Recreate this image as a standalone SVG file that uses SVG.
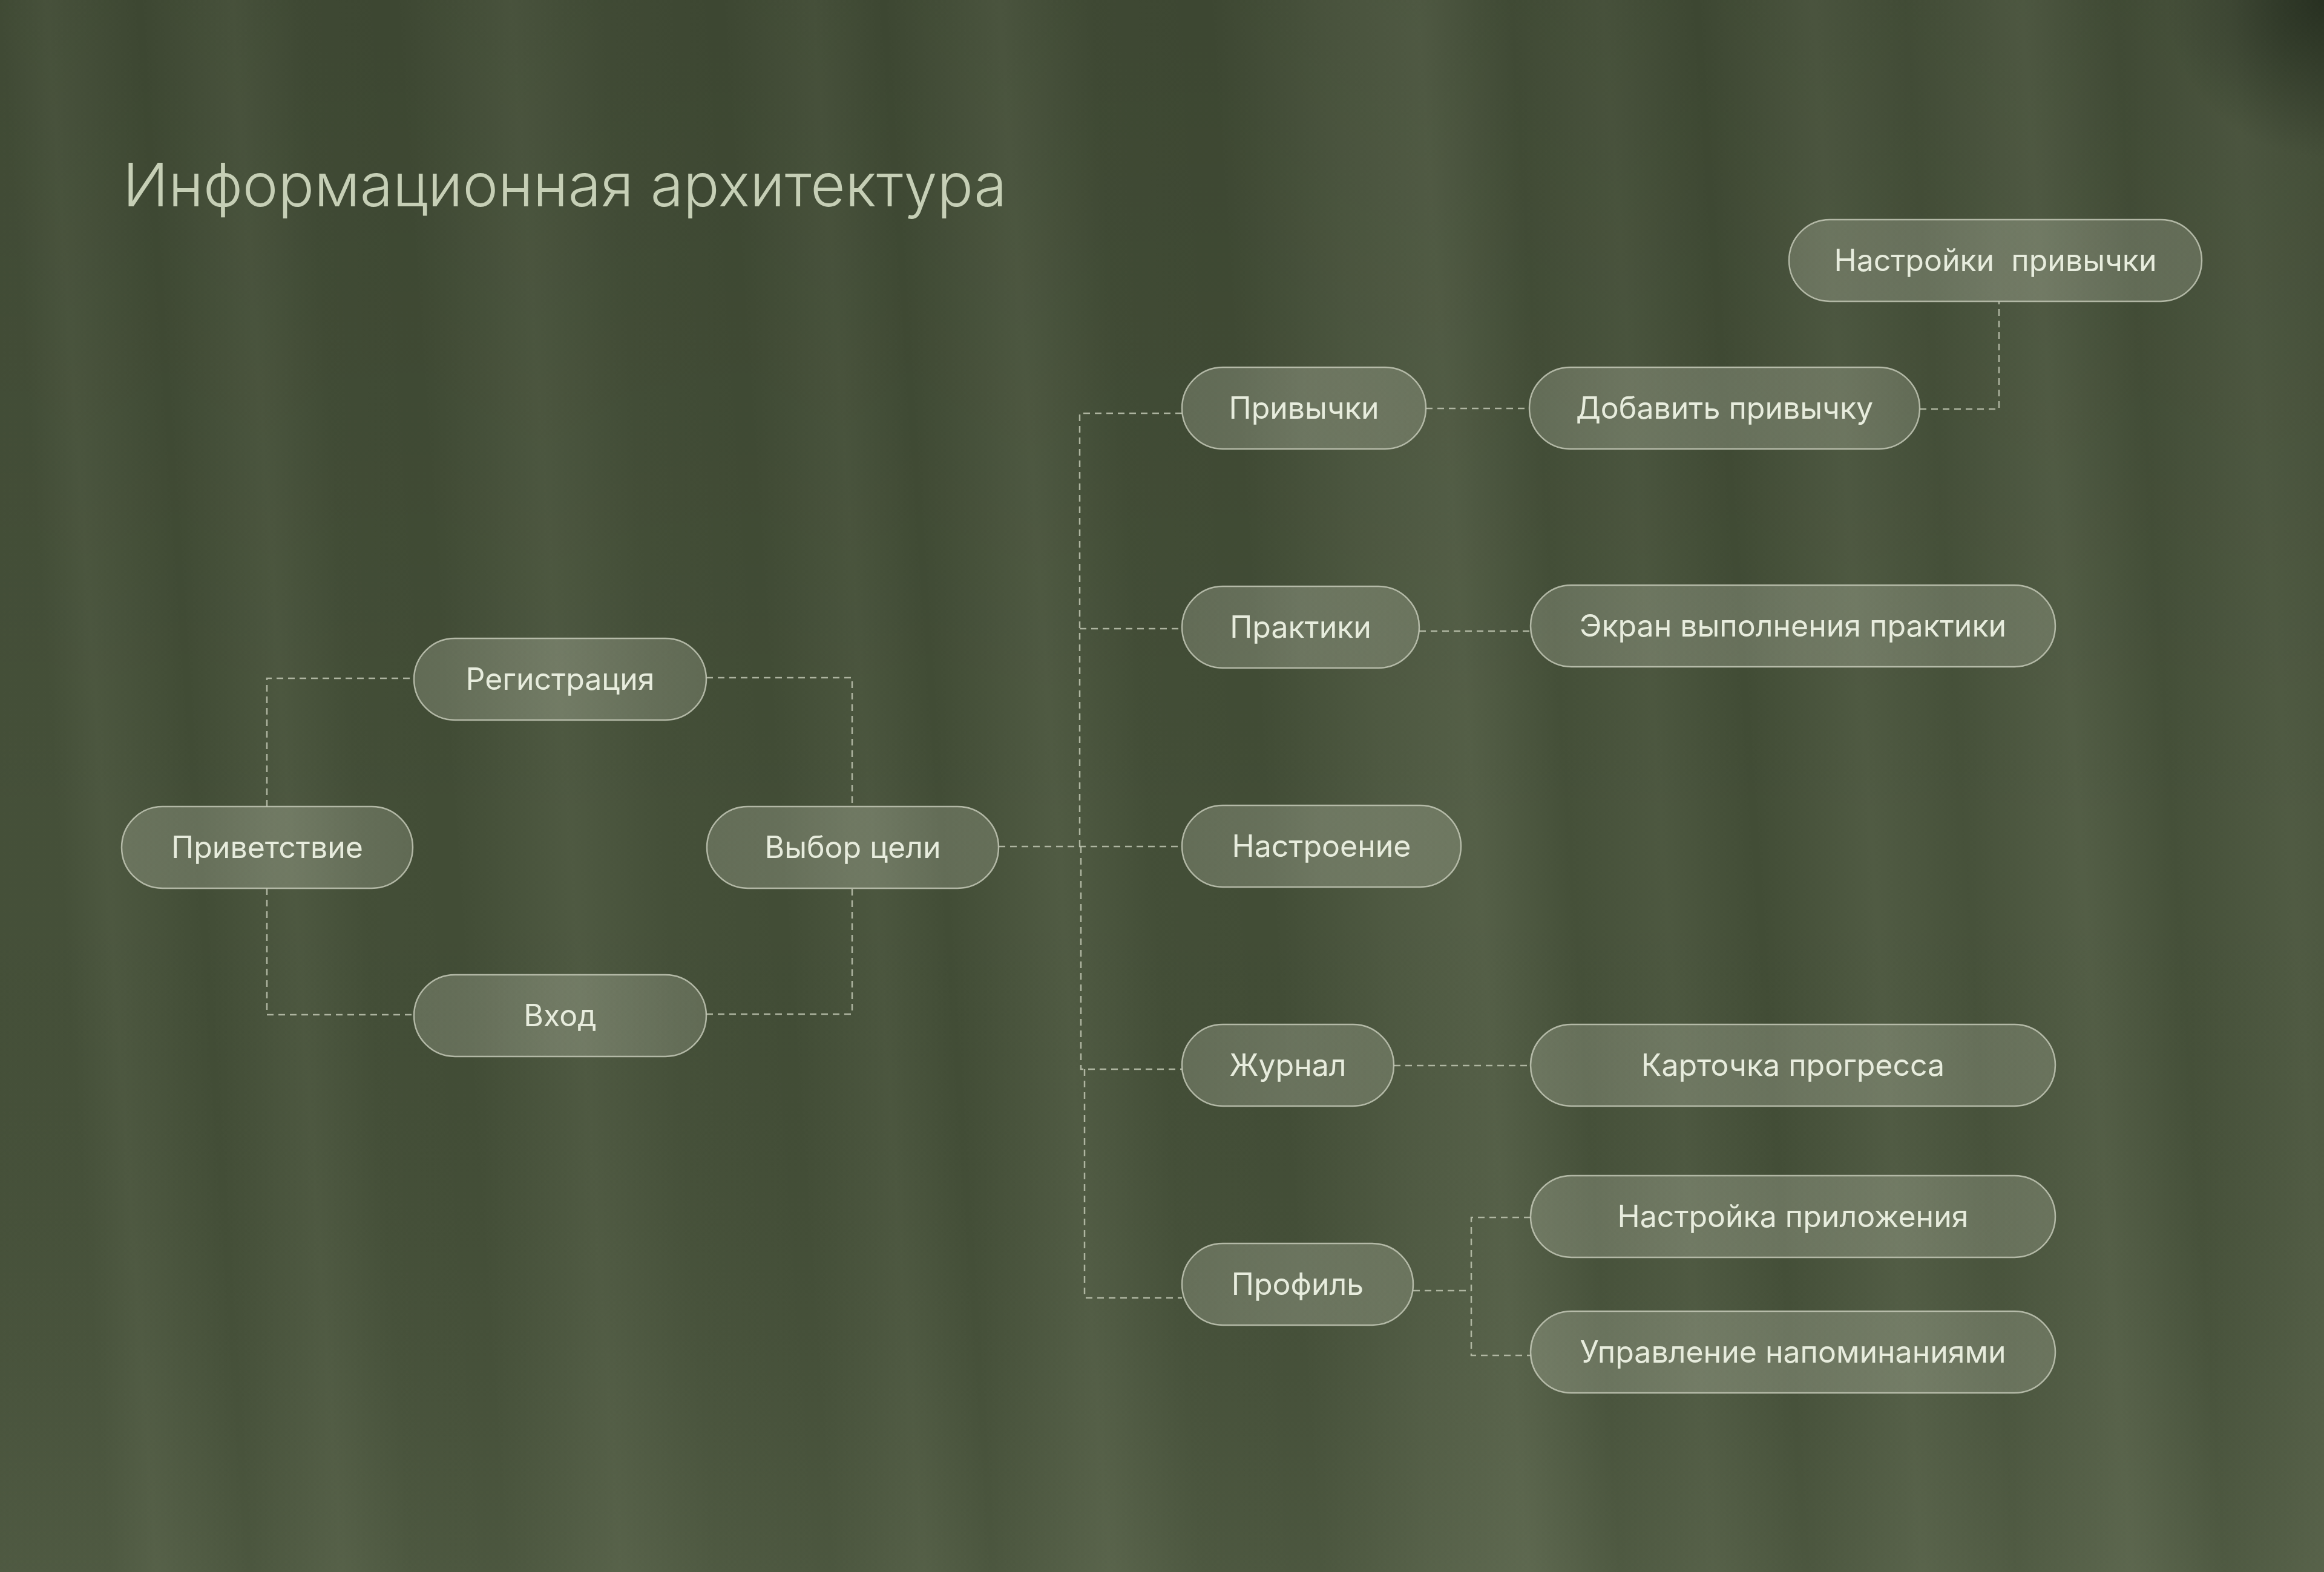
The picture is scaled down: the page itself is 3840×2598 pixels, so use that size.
<svg xmlns="http://www.w3.org/2000/svg" width="3840" height="2598" viewBox="0 0 3840 2598">
<defs>
<linearGradient id="stripes" gradientUnits="userSpaceOnUse" x1="0" y1="0" x2="3840" y2="0" gradientTransform="skewX(4)">
<stop offset="0" stop-color="#dfe8c8" stop-opacity="0.02"/>
<stop offset="0.02" stop-color="#dfe8c8" stop-opacity="0.07"/>
<stop offset="0.06" stop-color="#dfe8c8" stop-opacity="0.0"/>
<stop offset="0.10" stop-color="#dfe8c8" stop-opacity="0.07"/>
<stop offset="0.13" stop-color="#dfe8c8" stop-opacity="0.01"/>
<stop offset="0.17" stop-color="#dfe8c8" stop-opacity="0.0"/>
<stop offset="0.22" stop-color="#dfe8c8" stop-opacity="0.08"/>
<stop offset="0.26" stop-color="#dfe8c8" stop-opacity="0.02"/>
<stop offset="0.31" stop-color="#dfe8c8" stop-opacity="0.0"/>
<stop offset="0.35" stop-color="#dfe8c8" stop-opacity="0.06"/>
<stop offset="0.38" stop-color="#dfe8c8" stop-opacity="0.0"/>
<stop offset="0.43" stop-color="#dfe8c8" stop-opacity="0.09"/>
<stop offset="0.47" stop-color="#dfe8c8" stop-opacity="0.01"/>
<stop offset="0.52" stop-color="#dfe8c8" stop-opacity="0.0"/>
<stop offset="0.57" stop-color="#dfe8c8" stop-opacity="0.08"/>
<stop offset="0.61" stop-color="#dfe8c8" stop-opacity="0.12"/>
<stop offset="0.65" stop-color="#dfe8c8" stop-opacity="0.02"/>
<stop offset="0.69" stop-color="#dfe8c8" stop-opacity="0.07"/>
<stop offset="0.73" stop-color="#dfe8c8" stop-opacity="0.0"/>
<stop offset="0.78" stop-color="#dfe8c8" stop-opacity="0.09"/>
<stop offset="0.82" stop-color="#dfe8c8" stop-opacity="0.03"/>
<stop offset="0.87" stop-color="#dfe8c8" stop-opacity="0.11"/>
<stop offset="0.91" stop-color="#dfe8c8" stop-opacity="0.02"/>
<stop offset="0.96" stop-color="#dfe8c8" stop-opacity="0.09"/>
<stop offset="1" stop-color="#dfe8c8" stop-opacity="0.04"/>
</linearGradient>
<linearGradient id="vert" x1="0" y1="0" x2="0" y2="1">
<stop offset="0" stop-color="#000000" stop-opacity="0.08"/>
<stop offset="0.55" stop-color="#000000" stop-opacity="0"/>
<stop offset="1" stop-color="#e8f0d0" stop-opacity="0.06"/>
</linearGradient>
<radialGradient id="corner" gradientUnits="userSpaceOnUse" cx="3840" cy="0" r="260">
<stop offset="0" stop-color="#1c2418" stop-opacity="0.7"/>
<stop offset="1" stop-color="#1c2418" stop-opacity="0"/>
</radialGradient>
<linearGradient id="pillFill" x1="0" y1="0" x2="1" y2="0">
<stop offset="0" stop-color="#e6ead8" stop-opacity="0.20"/>
<stop offset="0.5" stop-color="#e6ead8" stop-opacity="0.24"/>
<stop offset="1" stop-color="#e6ead8" stop-opacity="0.18"/>
</linearGradient>
<style>
.pill{fill:url(#pillFill);stroke:#c3c8b6;stroke-opacity:0.85;stroke-width:2.5}
.lbl{font-family:Inter,"Noto Sans","Liberation Sans",sans-serif;font-size:50px;font-weight:400;fill:#e7ecdd;text-anchor:middle}
.title{font-family:Inter,"Noto Sans","Liberation Sans",sans-serif;font-size:99px;font-weight:300;fill:#c6cfb6}
.con{fill:none;stroke:#bfc5b2;stroke-opacity:0.85;stroke-width:2.5;stroke-dasharray:11 8}
</style>
</defs>
<rect x="0" y="0" width="3840" height="2598" fill="#424d36"/>
<rect x="0" y="0" width="3840" height="2598" fill="url(#stripes)"/>
<rect x="0" y="0" width="3840" height="2598" fill="url(#vert)"/>
<rect x="3500" y="0" width="340" height="340" fill="url(#corner)"/>

<text class="title" x="203" y="341">Информационная архитектура</text>

<g id="connectors">
<path class="con" d="M441,1333 V1121 H684"/>
<path class="con" d="M441,1468 V1677 H684"/>
<path class="con" d="M1167,1120 H1408 V1333"/>
<path class="con" d="M1167,1676 H1408 V1468"/>
<path class="con" d="M1650,1399 H1953"/>
<path class="con" d="M1784,1399 V683 H1953"/>
<path class="con" d="M1784,1039 H1953"/>
<path class="con" d="M1786,1399 V1767 H1953"/>
<path class="con" d="M1792,1767 V2145 H1953"/>
<path class="con" d="M2356,675 H2527"/>
<path class="con" d="M3172,676 H3303 V498"/>
<path class="con" d="M2345,1043 H2529"/>
<path class="con" d="M2303,1761 H2529"/>
<path class="con" d="M2335,2133 H2431"/>
<path class="con" d="M2529,2012 H2431 V2240 H2529"/>
</g>

<g id="n-privetstvie"><rect class="pill" x="201" y="1333" width="481" height="135" rx="67.5"/><text class="lbl" x="441.5" y="1418">Приветствие</text></g>
<g id="n-registraciya"><rect class="pill" x="684" y="1055" width="483" height="135" rx="67.5"/><text class="lbl" x="925.5" y="1140">Регистрация</text></g>
<g id="n-vhod"><rect class="pill" x="684" y="1611" width="483" height="135" rx="67.5"/><text class="lbl" x="925.5" y="1696">Вход</text></g>
<g id="n-vybor"><rect class="pill" x="1168" y="1333" width="482" height="135" rx="67.5"/><text class="lbl" x="1409" y="1418">Выбор цели</text></g>
<g id="n-privychki"><rect class="pill" x="1953" y="607" width="403" height="135" rx="67.5"/><text class="lbl" x="2154.5" y="692">Привычки</text></g>
<g id="n-dobavit"><rect class="pill" x="2527" y="607" width="645" height="135" rx="67.5"/><text class="lbl" x="2849.5" y="692">Добавить привычку</text></g>
<g id="n-nastroyki"><rect class="pill" x="2956" y="363" width="682" height="135" rx="67.5"/><text class="lbl" x="3297" y="448" xml:space="preserve">Настройки  привычки</text></g>
<g id="n-praktiki"><rect class="pill" x="1953" y="969" width="392" height="135" rx="67.5"/><text class="lbl" x="2149" y="1054">Практики</text></g>
<g id="n-ekran"><rect class="pill" x="2529" y="967" width="867" height="135" rx="67.5"/><text class="lbl" x="2962.5" y="1052">Экран выполнения практики</text></g>
<g id="n-nastroenie"><rect class="pill" x="1953" y="1331" width="461" height="135" rx="67.5"/><text class="lbl" x="2183.5" y="1416">Настроение</text></g>
<g id="n-zhurnal"><rect class="pill" x="1953" y="1693" width="350" height="135" rx="67.5"/><text class="lbl" x="2128" y="1778">Журнал</text></g>
<g id="n-kartochka"><rect class="pill" x="2529" y="1693" width="867" height="135" rx="67.5"/><text class="lbl" x="2962.5" y="1778">Карточка прогресса</text></g>
<g id="n-profil"><rect class="pill" x="1953" y="2055" width="382" height="135" rx="67.5"/><text class="lbl" x="2144" y="2140">Профиль</text></g>
<g id="n-nastroyka-pril"><rect class="pill" x="2529" y="1943" width="867" height="135" rx="67.5"/><text class="lbl" x="2962.5" y="2028">Настройка приложения</text></g>
<g id="n-upravlenie"><rect class="pill" x="2529" y="2167" width="867" height="135" rx="67.5"/><text class="lbl" x="2962.5" y="2252">Управление напоминаниями</text></g>
</svg>
